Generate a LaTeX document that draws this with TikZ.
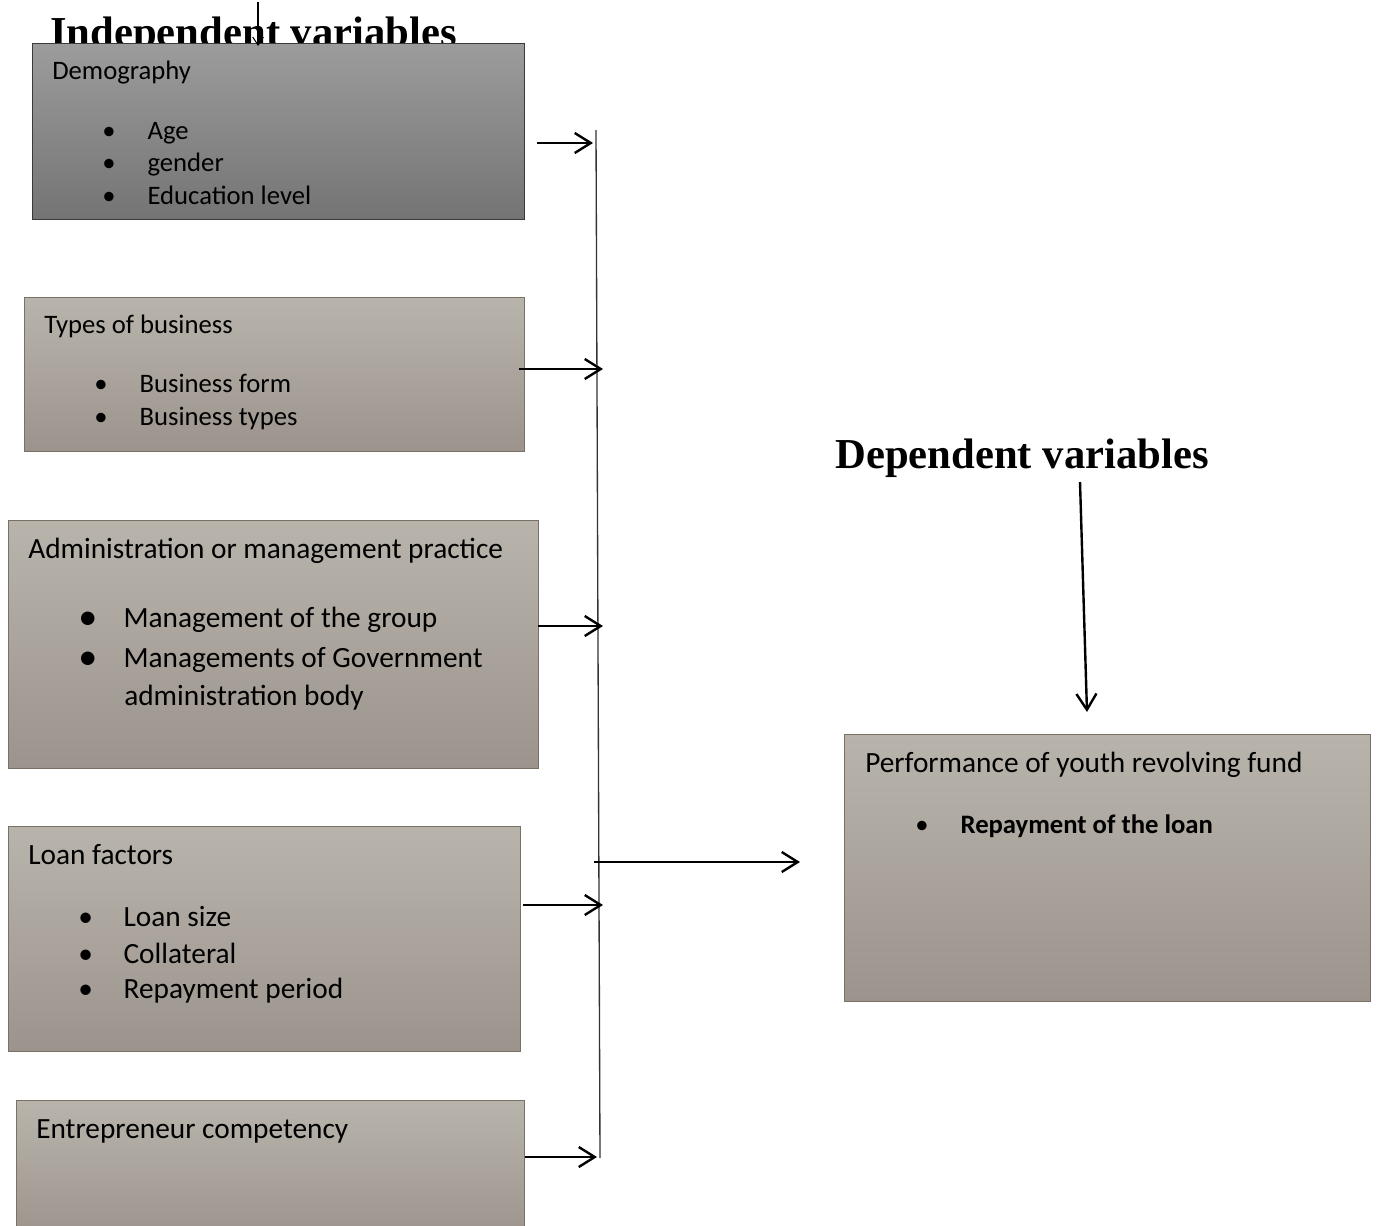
\documentclass[tikz,border=0pt]{standalone}
\usepackage{fontspec}
\setmainfont{Carlito}
\newfontfamily\headfont{Liberation Serif}
\usetikzlibrary{arrows.meta,fit}

\definecolor{darktop}{HTML}{9C9C9C}
\definecolor{darkbot}{HTML}{747474}
\definecolor{darkline}{HTML}{3A3A3A}
\definecolor{tantop}{HTML}{B8B4AC}
\definecolor{tanbot}{HTML}{9C948C}
\definecolor{tanline}{HTML}{7A7064}
\definecolor{busline}{HTML}{333333}

\newcommand\itm[2][\textbullet]{\makebox[34pt][l]{#1}#2}

\tikzset{
  varbox/.style={draw=tanline, line width=0.75pt, inner sep=0pt,
    top color=tantop, bottom color=tanbot},
  darkbox/.style={varbox, draw=darkline, top color=darktop, bottom color=darkbot},
  txt/.style={anchor=base west, inner sep=0pt, font=\fontsize{20}{24}\selectfont},
  bigtxt/.style={txt, font=\fontsize{22}{26}\selectfont},
  head/.style={anchor=base west, inner sep=0pt,
    font=\headfont\bfseries\fontsize{32}{38}\selectfont},
  feed/.style={-{Straight Barb[length=12pt,width=15pt]}, line width=1.8pt},
}

\begin{document}
\begin{tikzpicture}[x=0.75pt, y=-0.75pt]
\clip (0,0) rectangle (1378,1225);

% headings
\node[head] (indep) at (50,46) {Independent variables};
\node[head] (dep) at (835,468) {Dependent variables};

% variable boxes
\node[darkbox, fit={(32,43) (524,219)}] (demo) {};
\node[varbox, fit={(24,297) (524,451)}] (types) {};
\node[varbox, fit={(8,520) (538,768)}] (admin) {};
\node[varbox, fit={(8,826) (520,1051)}] (loan) {};
\node[varbox, fit={(16,1100) (524,1240)}] (entre) {};
\node[varbox, fit={(844,734) (1370,1001)}] (perf) {};

% box texts
\node[txt] (demo-t) at (52,79) {Demography};
\node[txt] (demo-a) at (102,139) {\itm{Age}};
\node[txt] (demo-b) at (102,171) {\itm{gender}};
\node[txt] (demo-c) at (102,204) {\itm{Education level}};

\node[txt] (types-t) at (44,333) {Types of business};
\node[txt] (types-a) at (94,392) {\itm{Business form}};
\node[txt] (types-b) at (94,425) {\itm{Business types}};

\node[bigtxt] (admin-t) at (28,558) {Administration or management practice};
\node[bigtxt] (admin-a) at (78,627) {\itm[\raisebox{-1.5pt}{\scalebox{1.3}{\textbullet}}]{Management of the group}};
\node[bigtxt] (admin-b) at (78,667) {\itm[\raisebox{-1.5pt}{\scalebox{1.3}{\textbullet}}]{Managements of Government}};
\node[bigtxt] (admin-c) at (124,705) {administration body};

\node[bigtxt] (loan-t) at (28,864) {Loan factors};
\node[bigtxt] (loan-a) at (78,926) {\itm{Loan size}};
\node[bigtxt] (loan-b) at (78,963) {\itm{Collateral}};
\node[bigtxt] (loan-c) at (78,998) {\itm{Repayment period}};

\node[bigtxt] (entre-t) at (36,1138) {Entrepreneur competency};

\node[bigtxt] (perf-t) at (865,772) {Performance of youth revolving fund};
\node[txt] (perf-a) at (915,833) {\itm{\textbf{Repayment of the loan}}};

% collecting line
\coordinate (bus-top) at (596,130);
\coordinate (bus-bot) at (600,1158);
\draw[busline, line width=1pt] (bus-top) -- (bus-bot);

% arrows into the line
\coordinate (demo-out) at (537,143);
\coordinate (demo-in) at (593,143);
\coordinate (types-out) at (519,369);
\coordinate (types-in) at (603,369);
\coordinate (admin-out) at (538,626);
\coordinate (admin-in) at (603,626);
\coordinate (loan-out) at (523,905);
\coordinate (loan-in) at (603,905);
\coordinate (entre-out) at (525,1157);
\coordinate (entre-in) at (597,1157);
\draw[feed] (demo-out) -- (demo-in);
\draw[feed] (types-out) -- (types-in);
\draw[feed] (admin-out) -- (admin-in);
\draw[feed] (loan-out) -- (loan-in);
\draw[feed] (entre-out) -- (entre-in);

% arrow to the dependent box
\coordinate (bus-out) at (594,862);
\coordinate (perf-in) at (800,862);
\draw[feed] (bus-out) -- (perf-in);

% heading arrows
\coordinate (dep-from) at (1080,482);
\coordinate (dep-to) at (1087,712);
\draw[feed] (dep-from) -- (dep-to);
\coordinate (indep-from) at (258,2);
\coordinate (indep-to) at (258,46);
\draw[-{Straight Barb[length=6pt,width=8pt]}, line width=0.8pt] (indep-from) -- (indep-to);

\end{tikzpicture}
\end{document}
